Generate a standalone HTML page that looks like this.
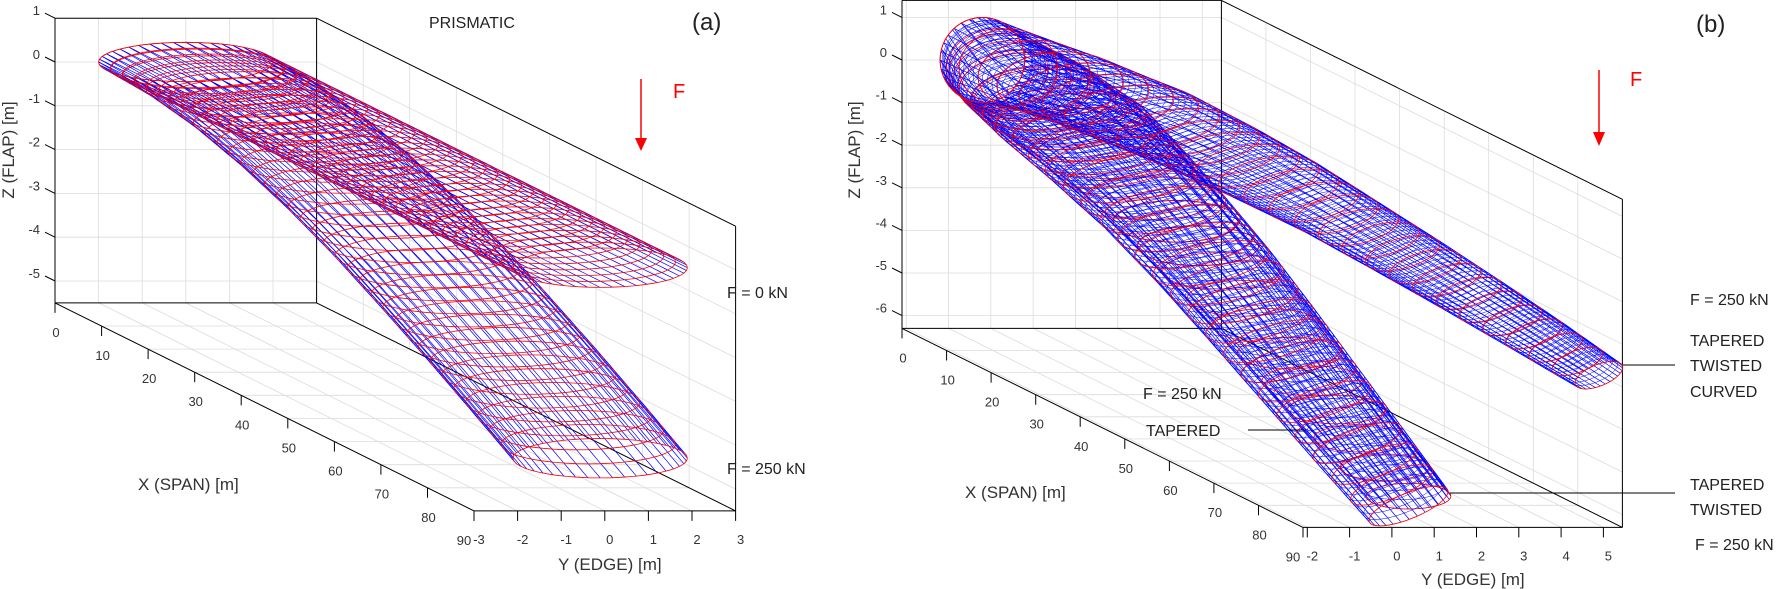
<!DOCTYPE html>
<html><head><meta charset="utf-8"><style>
body{margin:0;background:#fff}
svg{display:block;font-family:"Liberation Sans",Arial,sans-serif}
</style></head><body>
<svg id="fig" width="1781" height="589" viewBox="0 0 1781 589" xmlns="http://www.w3.org/2000/svg">
<g id="panelA"></g>
<g id="panelB"></g>
<g fill="#222" font-size="16">
<text x="429" y="28" font-size="16">PRISMATIC</text>
<text x="692" y="30" font-size="24">(a)</text>
<text x="1696" y="32" font-size="24">(b)</text>
<line x1="641" y1="79" x2="641" y2="140" stroke="#f00" stroke-width="1.5"/>
<polygon points="635,138 647,138 641,151" fill="#f00"/>
<text x="673" y="98" fill="#f00" font-size="20">F</text>
<line x1="1599" y1="70" x2="1599" y2="134" stroke="#f00" stroke-width="1.5"/>
<polygon points="1593,132 1605,132 1599,146" fill="#f00"/>
<text x="1630" y="86" fill="#f00" font-size="20">F</text>
<text x="727" y="298">F = 0 kN</text>
<text x="727" y="474">F = 250 kN</text>
<text x="1690" y="305">F = 250 kN</text>
<text x="1690" y="346">TAPERED</text>
<text x="1690" y="371">TWISTED</text>
<text x="1690" y="397">CURVED</text>
<line x1="1623" y1="365" x2="1675" y2="365" stroke="#000"/>
<text x="1143" y="399">F = 250 kN</text>
<text x="1146" y="436">TAPERED</text>
<line x1="1248" y1="430" x2="1306" y2="430" stroke="#000"/>
<text x="1690" y="490">TAPERED</text>
<text x="1690" y="515">TWISTED</text>
<line x1="1450" y1="493" x2="1675" y2="493" stroke="#000"/>
<text x="1695" y="550">F = 250 kN</text>
</g>
</svg>
<script>
// ---- data (stations along span) ----
const stationsX = [0,10,20,30,40,50,60,70,80,89];
// panel a
const aUnloadedZ = [0,0,0,0,0,0,0,0,0,0];
const aLoadedZ = [0,-0.08,-0.30,-0.66,-1.12,-1.67,-2.31,-2.98,-3.69,-4.35];
const aCenterY = [0,0,0,0,0,0,0,0,0,0];
const aChord = [2,2,2,2,2,2,2,2,2,2];
const aThick = [0.45,0.45,0.45,0.45,0.45,0.45,0.45,0.45,0.45,0.45];
// panel b
const bCurvedZ = [0,-0.05,-0.19,-0.42,-0.71,-1.07,-1.48,-1.91,-2.36,-2.78];
const bCurvedY = [-0.2,0.61,1.26,1.86,2.43,2.99,3.52,4.04,4.55,5.0];
const bCurvedChord = [1.0,1.5,1.6,1.4,1.2,1.0,0.9,0.8,0.7,0.6];
const bCurvedThick = [1.0,0.75,0.6,0.5,0.45,0.4,0.35,0.3,0.27,0.25];
const bStraightZ = [0,-0.11,-0.41,-0.88,-1.50,-2.25,-3.11,-4.01,-4.97,-5.85];
const bStraightY = [-0.2,-0.2,-0.2,-0.2,-0.1,0,0.1,0.2,0.35,0.5];
const bTaperedZ = [0,-0.10,-0.39,-0.84,-1.44,-2.16,-2.99,-3.86,-4.78,-5.62];
const bChord = [1.0,1.6,1.8,1.65,1.5,1.4,1.3,1.2,1.1,1.0];
const bThick = [1.0,0.8,0.65,0.55,0.5,0.45,0.4,0.35,0.32,0.3];
const bTwist = [0,2.5,5,7.5,10,12.5,15,17.5,20,22];
const noTwist = [0,0,0,0,0,0,0,0,0,0];
const xTicks = [0,10,20,30,40,50,60,70,80,90];
const aYTicks = [-3,-2,-1,0,1,2,3];
const aZTicks = [1,0,-1,-2,-3,-4,-5];
const bYTicks = [-2,-1,0,1,2,3,4,5];
const bZTicks = [1,0,-1,-2,-3,-4,-5,-6];

const NS="http://www.w3.org/2000/svg";
function el(parent,tag,attrs){const e=document.createElementNS(NS,tag);for(const k in attrs)e.setAttribute(k,attrs[k]);parent.appendChild(e);return e;}
function interp(arr,x){for(let i=0;i<stationsX.length-1;i++){if(x<=stationsX[i+1]){const t=(x-stationsX[i])/(stationsX[i+1]-stationsX[i]);return arr[i]+t*(arr[i+1]-arr[i]);}}return arr[arr.length-1];}

function panel(g,P){
  const proj=(X,Y,Z)=>[P.ox+(Y-P.y0)*P.sy+X*P.xx,P.oz-Z*P.sz+X*P.xy];
  const L=(a,b,st,w,name)=>{const l=el(g,'line',{x1:a[0].toFixed(1),y1:a[1].toFixed(1),x2:b[0].toFixed(1),y2:b[1].toFixed(1),stroke:st,'stroke-width':w});};
  const gc='#dcdcdc';
  const [y0,y1,z0,z1]=[P.y0,P.y1,P.z0,P.z1];
  P.yt.forEach(y=>{L(proj(0,y,z0),proj(0,y,z1),gc,0.8,'back-grid-y');L(proj(0,y,z0),proj(90,y,z0),gc,0.8,'floor-grid-y');});
  P.zt.forEach(z=>{L(proj(0,y0,z),proj(0,y1,z),gc,0.8,'back-grid-z');L(proj(0,y1,z),proj(90,y1,z),gc,0.8,'side-grid-z');});
  xTicks.forEach(x=>{L(proj(x,y0,z0),proj(x,y1,z0),gc,0.8,'floor-grid-x');L(proj(x,y1,z0),proj(x,y1,z1),gc,0.8,'side-grid-x');});
  const k='#000';
  L(proj(0,y0,z1),proj(0,y1,z1),k,1,'box-edge');L(proj(0,y0,z0),proj(0,y1,z0),k,1,'box-edge');
  L(proj(0,y0,z0),proj(0,y0,z1),k,1,'box-edge');L(proj(0,y1,z0),proj(0,y1,z1),k,1,'box-edge');
  L(proj(0,y1,z1),proj(90,y1,z1),k,1,'box-edge');L(proj(90,y1,z0),proj(90,y1,z1),k,1,'box-edge');
  L(proj(0,y1,z0),proj(90,y1,z0),k,1,'box-edge');
  L(proj(0,y0,z0),proj(90,y0,z0),k,1,'x-axis-line');L(proj(90,y0,z0),proj(90,y1,z0),k,1,'y-axis-line');
  xTicks.forEach(x=>{const p=proj(x,y0,z0);L(p,[p[0],p[1]+10],k,1,'x-tick');
    const t=el(g,'text',{x:(p[0]+(x==90?-10:1)).toFixed(1),y:(p[1]+34).toFixed(1),'text-anchor':'middle','font-size':13,fill:'#333'});t.textContent=x;
    });
  P.yt.forEach(y=>{const p=proj(90,y,z0);L(p,[p[0],p[1]+10],k,1,'y-tick');
    const t=el(g,'text',{x:(p[0]+5).toFixed(1),y:(p[1]+33).toFixed(1),'text-anchor':'middle','font-size':13,fill:'#333'});t.textContent=y;
    });
  P.zt.forEach(z=>{const p=proj(0,y0,z);L(p,[p[0]-10,p[1]-5],k,1,'z-tick');
    const t=el(g,'text',{x:(p[0]-15).toFixed(1),y:(p[1]-3).toFixed(1),'text-anchor':'end','font-size':13,fill:'#333'});t.textContent=z;
    });
  let t=el(g,'text',{x:P.xl[0],y:P.xl[1],'font-size':17,fill:'#333'});t.textContent='X (SPAN) [m]';
  
  t=el(g,'text',{x:P.yl[0],y:P.yl[1],'font-size':17,fill:'#333'});t.textContent='Y (EDGE) [m]';
  
  t=el(g,'text',{x:P.zl[0],y:P.zl[1],'font-size':17,fill:'#333','text-anchor':'middle',transform:`rotate(-90 ${P.zl[0]} ${P.zl[1]})`});t.textContent='Z (FLAP) [m]';
  
  P.tubes.forEach(T=>{
    const tg=el(g,'g',{fill:'none'});
    
    
    const pt=(X,phi)=>{const yc=interp(T.Y,X),zc=interp(T.Z,X),a=interp(T.A,X),b=interp(T.B,X),th=interp(T.W,X)*Math.PI/180;
      const dy=a*Math.cos(phi),dz=b*Math.sin(phi);return proj(X,yc+dy*Math.cos(th)-dz*Math.sin(th),zc+dy*Math.sin(th)+dz*Math.cos(th));};
    const Xend=89;
    const ring=(X,col,w)=>{let d='';for(let j=0;j<=48;j++){const p=pt(X,j/48*2*Math.PI);d+=(j?'L':'M')+p[0].toFixed(1)+' '+p[1].toFixed(1);}
      const r=el(tg,'path',{d:d,stroke:col,'stroke-width':w});};
    const lon=(phi,col,w)=>{let d='';for(let i=0;i<=60;i++){const p=pt(i/60*Xend,phi);d+=(i?'L':'M')+p[0].toFixed(1)+' '+p[1].toFixed(1);}
      const r=el(tg,'path',{d:d,stroke:col,'stroke-width':w});};
    for(let i=0;i<T.nb;i++)ring(i/(T.nb-1)*Xend,'#0000ff',0.5);
    for(let j=0;j<T.nl;j++)lon(j/T.nl*2*Math.PI,'#0000ff',0.7);
    for(let i=0;i<T.nr;i++)ring(i/(T.nr-1)*Xend,'#ff0000',0.8);
  });
}
panel(document.getElementById('panelA'),{ox:55,y0:-3,y1:3,z0:-5.5,z1:1,sy:43.6,xx:4.656,oz:62,sz:43.8,xy:2.311,
  yt:aYTicks,zt:aZTicks,xl:[138,490],yl:[558,570],zl:[14,150],
  tubes:[
    {name:'loaded-prismatic-blade',Y:aCenterY,Z:aLoadedZ,A:aChord,B:aThick,W:noTwist,nb:0,nl:44,nr:36},
    {name:'unloaded-prismatic-blade',Y:aCenterY,Z:aUnloadedZ,A:aChord,B:aThick,W:noTwist,nb:0,nl:44,nr:36}
  ]});
panel(document.getElementById('panelB'),{ox:902,y0:-2.1,y1:5.45,z0:-6.3,z1:1.4,sy:42.3,xx:4.456,oz:60,sz:42.6,xy:2.211,
  yt:bYTicks,zt:bZTicks,xl:[965,498],yl:[1421,585],zl:[860,150],
  tubes:[
    {name:'tapered-blade',Y:bStraightY,Z:bTaperedZ,A:bChord,B:bThick,W:noTwist,nb:60,nl:24,nr:20},
    {name:'tapered-twisted-blade',Y:bStraightY,Z:bStraightZ,A:bChord,B:bThick,W:bTwist,nb:90,nl:30,nr:28},
    {name:'tapered-twisted-curved-blade',Y:bCurvedY,Z:bCurvedZ,A:bCurvedChord,B:bCurvedThick,W:bTwist,nb:110,nl:30,nr:28}
  ]});
</script>
</body></html>
